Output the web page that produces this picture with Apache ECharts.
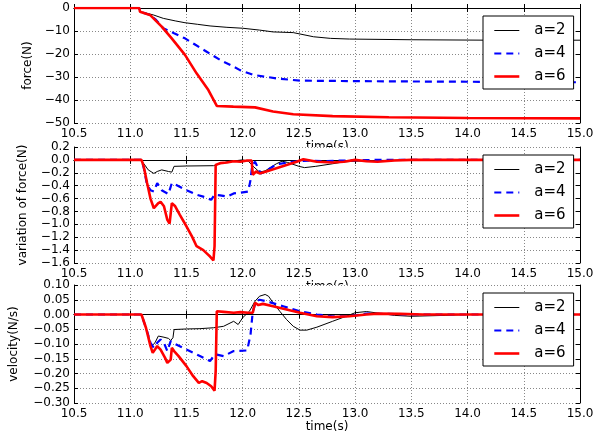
<!DOCTYPE html>
<html>
<head>
<meta charset="utf-8">
<script src="https://cdn.jsdelivr.net/npm/echarts@6/dist/echarts.min.js"></script>
<style>html,body{margin:0;padding:0;background:#fff}#c{width:608px;height:436px}</style>
</head>
<body>
<div id="c"></div>
<script>
// ---- data: [time(s), value] ----
var seriesNames = ['a=2', 'a=4', 'a=6'];
var xTicks = {min: 10.5, max: 15.0, step: 0.5};

var force_a2 = [[10.5,0],[11.08,0],[11.087,-1.6],[11.205,-3.0],[11.294,-4.5],[11.4,-5.6],[11.487,-6.4],[11.6,-7.1],[11.71,-7.8],[11.86,-8.4],[12.0,-8.8],[12.15,-9.6],[12.27,-10.4],[12.45,-10.7],[12.63,-12.5],[12.78,-13.2],[12.95,-13.5],[13.5,-13.8],[14.2,-14.0],[15.0,-14.0]];
var force_a4 = [[10.5,0],[11.08,0],[11.087,-1.6],[11.176,-3.0],[11.23,-5.2],[11.294,-8.8],[11.39,-11.0],[11.487,-13.2],[11.58,-16.0],[11.68,-19.0],[11.8,-22.6],[11.9,-25.0],[11.976,-27.0],[12.095,-29.1],[12.3,-30.6],[12.51,-31.6],[12.8,-31.7],[13.3,-31.9],[14.2,-32.1],[15.0,-32.3]];
var force_a6 = [[10.5,0],[11.08,0],[11.087,-1.6],[11.176,-3.0],[11.28,-8.1],[11.369,-13.2],[11.487,-20.4],[11.59,-28.4],[11.695,-35.7],[11.77,-42.6],[11.917,-42.9],[12.11,-43.2],[12.27,-45.0],[12.45,-46.2],[12.8,-47.0],[13.3,-47.5],[14.0,-47.8],[15.0,-48.0]];

var dforce_a2 = [[10.5,0],[11.095,0],[11.13,-0.08],[11.16,-0.155],[11.21,-0.21],[11.24,-0.18],[11.28,-0.155],[11.34,-0.18],[11.37,-0.19],[11.39,-0.10],[11.5,-0.095],[11.74,-0.09],[11.78,-0.07],[11.86,-0.03],[11.95,-0.01],[12.0,0.0],[12.05,-0.02],[12.1,-0.11],[12.15,-0.19],[12.2,-0.17],[12.3,-0.06],[12.35,-0.02],[12.4,-0.04],[12.5,-0.10],[12.55,-0.12],[12.65,-0.10],[12.8,-0.06],[12.9,-0.03],[13.0,-0.02],[13.2,-0.01],[13.5,0],[15.0,0]];
var dforce_a4 = [[10.5,0],[11.1,0],[11.12,-0.12],[11.15,-0.39],[11.18,-0.47],[11.21,-0.49],[11.24,-0.36],[11.28,-0.47],[11.34,-0.53],[11.37,-0.36],[11.41,-0.39],[11.5,-0.47],[11.59,-0.54],[11.65,-0.57],[11.72,-0.62],[11.75,-0.54],[11.8,-0.55],[11.86,-0.57],[11.92,-0.52],[11.98,-0.51],[12.05,-0.49],[12.07,-0.31],[12.085,-0.08],[12.11,-0.03],[12.13,-0.10],[12.16,-0.21],[12.2,-0.18],[12.3,-0.07],[12.4,-0.04],[12.5,-0.02],[12.6,-0.01],[12.7,-0.02],[12.9,-0.01],[13.2,0],[15.0,0]];
var dforce_a6 = [[10.5,0],[11.1,0],[11.12,-0.10],[11.15,-0.36],[11.18,-0.60],[11.21,-0.75],[11.22,-0.78],[11.25,-0.67],[11.27,-0.65],[11.3,-0.72],[11.33,-0.93],[11.35,-0.99],[11.37,-0.67],[11.4,-0.72],[11.44,-0.85],[11.5,-1.03],[11.55,-1.19],[11.59,-1.34],[11.62,-1.37],[11.65,-1.40],[11.68,-1.45],[11.71,-1.50],[11.74,-1.56],[11.75,-1.34],[11.76,-0.08],[11.8,-0.05],[11.86,-0.04],[11.92,-0.02],[11.98,-0.03],[12.04,-0.01],[12.08,-0.01],[12.09,-0.23],[12.12,-0.18],[12.15,-0.21],[12.21,-0.18],[12.3,-0.13],[12.39,-0.08],[12.48,-0.03],[12.54,0.01],[12.6,-0.01],[12.66,-0.03],[12.8,-0.04],[12.9,-0.03],[13.0,0],[13.1,-0.02],[13.2,-0.03],[13.35,-0.01],[13.5,0],[15.0,0]];

var vel_a2 = [[10.5,0],[11.1,0],[11.15,-0.057],[11.19,-0.107],[11.22,-0.096],[11.25,-0.073],[11.3,-0.077],[11.34,-0.081],[11.36,-0.088],[11.38,-0.079],[11.39,-0.051],[11.5,-0.049],[11.62,-0.048],[11.74,-0.045],[11.83,-0.040],[11.92,-0.023],[11.96,-0.034],[12.0,-0.011],[12.06,0.011],[12.11,0.045],[12.15,0.062],[12.2,0.068],[12.23,0.062],[12.27,0.040],[12.33,0.011],[12.39,-0.017],[12.45,-0.040],[12.51,-0.053],[12.57,-0.053],[12.66,-0.043],[12.8,-0.023],[12.92,-0.006],[13.0,0.006],[13.1,0.010],[13.2,0.005],[13.35,-0.003],[13.5,-0.006],[13.8,-0.003],[14.0,0],[15.0,0]];
var vel_a4 = [[10.5,0],[11.1,0],[11.15,-0.057],[11.18,-0.096],[11.21,-0.113],[11.24,-0.096],[11.27,-0.085],[11.3,-0.096],[11.33,-0.124],[11.36,-0.090],[11.38,-0.096],[11.5,-0.119],[11.62,-0.141],[11.71,-0.158],[11.74,-0.141],[11.77,-0.136],[11.83,-0.141],[11.92,-0.124],[12.04,-0.122],[12.07,-0.068],[12.09,0.011],[12.12,0.045],[12.15,0.050],[12.21,0.045],[12.36,0.028],[12.51,0.011],[12.66,0.0],[12.8,-0.006],[12.95,-0.006],[13.1,0.003],[13.3,0.002],[13.5,0],[15.0,0]];
var vel_a6 = [[10.5,0],[11.1,0],[11.14,-0.045],[11.18,-0.107],[11.2,-0.130],[11.22,-0.119],[11.24,-0.107],[11.27,-0.119],[11.31,-0.147],[11.33,-0.164],[11.36,-0.153],[11.37,-0.113],[11.39,-0.124],[11.43,-0.141],[11.5,-0.175],[11.56,-0.209],[11.61,-0.232],[11.64,-0.226],[11.68,-0.232],[11.72,-0.243],[11.75,-0.258],[11.76,-0.192],[11.77,0.011],[11.83,0.009],[11.92,0.006],[11.98,0.008],[12.05,0.006],[12.09,0.006],[12.11,0.040],[12.14,0.032],[12.18,0.036],[12.27,0.028],[12.39,0.017],[12.51,0.006],[12.66,-0.006],[12.8,-0.009],[12.95,-0.006],[13.1,0.0],[13.2,0.003],[13.4,0.002],[13.6,0],[15.0,0]];

var panels = [
  {name: 'force(N)', min: -50, max: 0, step: 10, dec: 0, data: [force_a2, force_a4, force_a6], nameGap: 29},
  {name: 'variation of force(N)', min: -1.6, max: 0.2, step: 0.2, dec: 1, data: [dforce_a2, dforce_a4, dforce_a6], nameGap: 45},
  {name: 'velocity(N/s)', min: -0.30, max: 0.10, step: 0.05, dec: 2, data: [vel_a2, vel_a4, vel_a6], nameGap: 54}
];

// ---- layout & style ----
var FONT = 'DejaVu Sans';
var grids = [
  {left: 74, width: 506, top: 8, height: 115},
  {left: 74, width: 506, top: 147, height: 116},
  {left: 74, width: 506, top: 285, height: 118}
];
var styles = [
  {color: '#000000', width: 1, type: 'solid'},
  {color: '#0000ff', width: 2.2, type: [7, 5]},
  {color: '#ff0000', width: 2.6, type: 'solid'}
];
function fmt(v, d) {
  var s = Math.abs(v) < 1e-9 ? (0).toFixed(d) : v.toFixed(d);
  return s.replace('-', '\u2212');
}
var lineBlack = {lineStyle: {color: '#000', width: 1}};
var splitStyle = {show: true, lineStyle: {color: '#888', width: 1, type: [1, 2]}};
var xAxes = [], yAxes = [], series = [], legends = [], graphics = [];
panels.forEach(function (p, i) {
  var g = grids[i];
  xAxes.push({
    type: 'value', gridIndex: i, min: xTicks.min, max: xTicks.max, interval: xTicks.step, z: 3,
    axisLine: lineBlack, axisTick: {inside: true, length: 4, lineStyle: {color: '#000'}},
    axisLabel: {color: '#000', fontFamily: FONT, fontSize: 12, margin: 5, formatter: function (v) { return fmt(v, 1); }},
    splitLine: splitStyle,
    name: i === 2 ? 'time(s)' : '', nameLocation: 'middle', nameGap: 16,
    nameTextStyle: {color: '#000', fontFamily: FONT, fontSize: 12}
  });
  yAxes.push({
    type: 'value', gridIndex: i, min: p.min, max: p.max, interval: p.step, z: 3,
    axisLine: {show: true, lineStyle: {color: '#000', width: 1}},
    axisTick: {show: true, inside: true, length: 4, lineStyle: {color: '#000'}},
    axisLabel: {color: '#000', fontFamily: FONT, fontSize: 12, margin: 4, formatter: function (v) { return fmt(v, p.dec); }},
    splitLine: splitStyle,
    name: p.name, nameLocation: 'middle', nameGap: p.nameGap, nameRotate: 90,
    nameTextStyle: {color: '#000', fontFamily: FONT, fontSize: 12}
  });
  p.data.forEach(function (d, k) {
    series.push({
      type: 'line', name: seriesNames[k], xAxisIndex: i, yAxisIndex: i, data: d,
      showSymbol: false, symbol: 'none', z: 5, clip: true,
      lineStyle: {color: styles[k].color, width: styles[k].width, type: styles[k].type},
      itemStyle: {color: styles[k].color}
    });
  });
  legends.push({
    data: seriesNames.map(function (n, k) {
      return {name: n, lineStyle: {width: styles[k].width, color: styles[k].color, type: styles[k].type}};
    }),
    orient: 'vertical', left: 483, top: g.top + 8, z: 8,
    backgroundColor: '#fff', borderColor: '#000', borderWidth: 1, borderRadius: 0,
    padding: [7, 8, 5, 10], itemGap: 8, itemWidth: 25, itemHeight: 14,
    itemStyle: {opacity: 0},
    textStyle: {color: '#000', fontFamily: FONT, fontSize: 15, padding: [0, 0, 0, 10]},
    selectedMode: false
  });
  if (i < 2) {
    graphics.push({type: 'text', z: 0, left: g.left + g.width / 2 - 21, top: g.top + g.height + 18,
      style: {text: 'time(s)', font: '12px "' + FONT + '"', fill: '#000'}});
    var ng = grids[i + 1];
    graphics.push({type: 'rect', z: 1, shape: {x: ng.left, y: ng.top, width: ng.width, height: ng.height}, style: {fill: '#fff'}});
  }
});
// mirror axes (top / right) for inward ticks on all four sides
panels.forEach(function (p, i) {
  xAxes.push({type: 'value', gridIndex: i, position: 'top', min: xTicks.min, max: xTicks.max, interval: xTicks.step, z: 3,
    axisLine: lineBlack, axisTick: {inside: true, length: 4, lineStyle: {color: '#000'}}, axisLabel: {show: false}, splitLine: {show: false}});
  yAxes.push({type: 'value', gridIndex: i, position: 'right', min: p.min, max: p.max, interval: p.step, z: 3,
    axisLine: {show: true, lineStyle: {color: '#000', width: 1}}, axisTick: {show: true, inside: true, length: 4, lineStyle: {color: '#000'}},
    axisLabel: {show: false}, splitLine: {show: false}});
});

var chart = echarts.init(document.getElementById('c'));
chart.setOption({
  backgroundColor: '#fff', animation: false,
  grid: grids, xAxis: xAxes, yAxis: yAxes, series: series, legend: legends, graphic: graphics
});
</script>
</body>
</html>
